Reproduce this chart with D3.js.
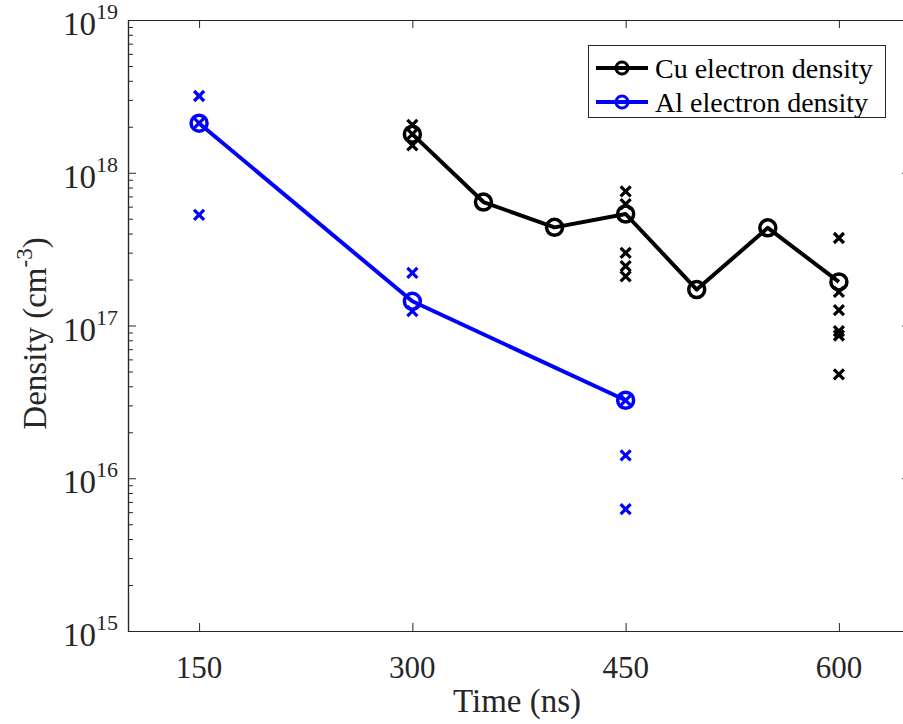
<!DOCTYPE html>
<html>
<head>
<meta charset="utf-8">
<script src="https://cdn.jsdelivr.net/npm/d3@7"></script>
<style>
  html, body { margin: 0; padding: 0; background: #fff; }
  svg { display: block; font-family: "Liberation Serif", "Times New Roman", serif; }
</style>
</head>
<body>
<div id="chart"></div>
<script>
// 평균값 (원 마커 + 선)
const cuTime = [300, 350, 400, 450, 500, 550, 600];
const cuMean = [1.79e18, 6.43e17, 4.39e17, 5.37e17, 1.72e17, 4.36e17, 1.93e17];
const alTime = [150, 300, 450];
const alMean = [2.11e18, 1.44e17, 3.24e16];

// 개별 측정값 (x 마커)
const cuPtTime = [300, 300, 300, 450, 450, 450, 450, 450, 600, 600, 600, 600, 600, 600];
const cuPtVal  = [2.06e18, 1.51e18, 1.79e18, 7.55e17, 6.24e17, 2.99e17, 2.45e17, 2.10e17,
                  3.74e17, 1.66e17, 1.26e17, 9.19e16, 8.6e16, 4.79e16];
const alPtTime = [150, 150, 150, 300, 300, 450, 450, 450];
const alPtVal  = [3.18e18, 2.11e18, 5.3e17, 2.21e17, 1.24e17, 3.24e16, 1.41e16, 6.27e15];

const xTicks = [150, 300, 450, 600];
const yTicks = [1e15, 1e16, 1e17, 1e18, 1e19];
const seriesNames = ['Cu electron density', 'Al electron density'];

const W = 903, H = 724;
const L = 128, R = 910, T = 20, B = 631;
const axisColor = '#262626';

const svg = d3.select('#chart').append('svg')
  .attr('width', W).attr('height', H).attr('viewBox', `0 0 ${W} ${H}`);

const x = d3.scaleLinear().domain([100, 650]).range([L, R]);
const y = d3.scaleLog().domain([1e15, 1e19]).range([B, T]);

// 보조 눈금
const minor = [];
for (let e = 15; e < 19; e++) for (let m = 2; m <= 9; m++) minor.push(m * Math.pow(10, e));

function styleAxis(g) {
  g.select('.domain').attr('stroke', axisColor).attr('stroke-width', 1.2);
  g.selectAll('.tick line').attr('stroke', axisColor).attr('stroke-width', 1);
  g.selectAll('.tick text').remove();
}

svg.append('g').attr('transform', `translate(${L},0)`)
  .call(d3.axisLeft(y).tickValues(yTicks).tickSize(-8).tickSizeOuter(0)).call(styleAxis);
svg.append('g').attr('transform', `translate(${L},0)`)
  .call(d3.axisLeft(y).tickValues(minor).tickSize(-5).tickSizeOuter(0)).call(styleAxis);
svg.append('g').attr('transform', `translate(${R},0)`)
  .call(d3.axisRight(y).tickValues(yTicks).tickSize(-8).tickSizeOuter(0)).call(styleAxis);
svg.append('g').attr('transform', `translate(${R},0)`)
  .call(d3.axisRight(y).tickValues(minor).tickSize(-5).tickSizeOuter(0)).call(styleAxis);
svg.append('g').attr('transform', `translate(0,${B})`)
  .call(d3.axisBottom(x).tickValues(xTicks).tickSize(-8).tickSizeOuter(0)).call(styleAxis);
svg.append('g').attr('transform', `translate(0,${T})`)
  .call(d3.axisTop(x).tickValues(xTicks).tickSize(-8).tickSizeOuter(0)).call(styleAxis);

// 눈금 라벨
svg.append('g').selectAll('text').data(xTicks).join('text')
  .attr('x', d => x(d)).attr('y', B + 47)
  .attr('text-anchor', 'middle').attr('font-size', 31).attr('fill', axisColor)
  .text(d => d);

const yl = svg.append('g').selectAll('text').data(yTicks).join('text')
  .attr('x', L - 10).attr('y', d => y(d) + 15)
  .attr('text-anchor', 'end').attr('font-size', 33).attr('fill', axisColor);
yl.append('tspan').text('10');
yl.append('tspan').attr('font-size', 22).attr('dy', -16).text(d => Math.round(Math.log10(d)));

// 축 제목
svg.append('text').attr('x', (L + R) / 2 - 2).attr('y', 712)
  .attr('text-anchor', 'middle').attr('font-size', 33).attr('fill', axisColor)
  .text('Time (ns)');
const ylab = svg.append('text')
  .attr('transform', `translate(46,${(T + B) / 2 + 8}) rotate(-90)`)
  .attr('text-anchor', 'middle').attr('font-size', 33).attr('fill', axisColor);
ylab.append('tspan').text('Density (cm');
ylab.append('tspan').attr('font-size', 23).attr('dy', -14).text('-3');
ylab.append('tspan').attr('dy', 14).text(')');

// 데이터
const plot = svg.append('g');
const line = d3.line().x(d => x(d[0])).y(d => y(d[1]));

function drawSeries(times, means, ptT, ptV, color) {
  plot.append('path').datum(d3.zip(times, means))
    .attr('d', line).attr('fill', 'none').attr('stroke', color).attr('stroke-width', 4)
    .attr('stroke-linejoin', 'round');
  plot.append('g').selectAll('circle').data(d3.zip(times, means)).join('circle')
    .attr('cx', d => x(d[0])).attr('cy', d => y(d[1])).attr('r', 8)
    .attr('fill', 'none').attr('stroke', color).attr('stroke-width', 3.5);
  plot.append('g').selectAll('path').data(d3.zip(ptT, ptV)).join('path')
    .attr('transform', d => `translate(${x(d[0])},${y(d[1])})`)
    .attr('d', 'M-5,-5L5,5M-5,5L5,-5')
    .attr('stroke', color).attr('stroke-width', 3.2);
}
drawSeries(cuTime, cuMean, cuPtTime, cuPtVal, '#000000');
drawSeries(alTime, alMean, alPtTime, alPtVal, '#0000ff');

// 범례
const lg = svg.append('g');
lg.append('rect').attr('x', 588.5).attr('y', 45.5).attr('width', 297).attr('height', 72)
  .attr('fill', '#fff').attr('stroke', axisColor).attr('stroke-width', 1);
[['#000000', 0], ['#0000ff', 1]].forEach(([c, i]) => {
  const cy = 68 + i * 34;
  lg.append('line').attr('x1', 596).attr('x2', 648).attr('y1', cy).attr('y2', cy)
    .attr('stroke', c).attr('stroke-width', 4);
  lg.append('circle').attr('cx', 622).attr('cy', cy).attr('r', 6)
    .attr('fill', 'none').attr('stroke', c).attr('stroke-width', 3);
  lg.append('text').attr('x', 655).attr('y', cy + 10).attr('font-size', 28)
    .attr('fill', '#000').text(seriesNames[i]);
});
</script>
</body>
</html>
